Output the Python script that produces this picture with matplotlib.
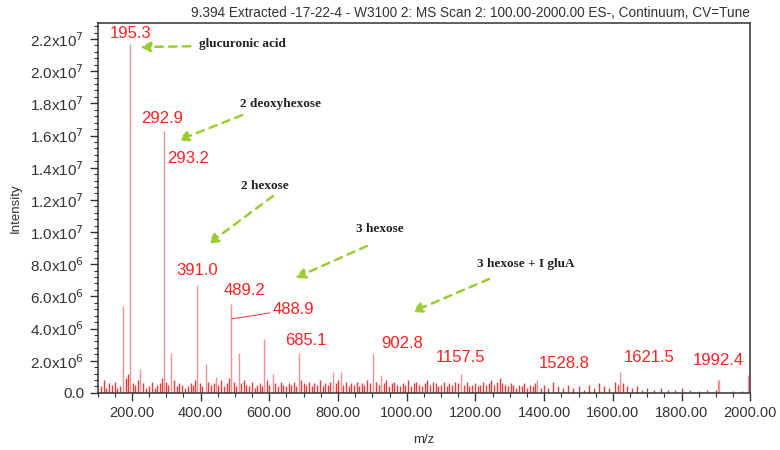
import numpy as np
import matplotlib
matplotlib.use("Agg")
import matplotlib.pyplot as plt
from matplotlib.ticker import MultipleLocator, FixedLocator

# pics principaux (m/z, intensite)
pic_mz = [175.0, 195.3, 225.0, 292.9, 315.0, 391.0, 415.0, 445.0, 489.2, 511.0,
          585.0, 610.0, 685.1, 785.0, 808.0, 902.8, 925.0, 1157.5, 1380.0,
          1621.5, 1905.0, 1910.0, 1992.4]
pic_int = [5.4e6, 2.17e7, 1.5e6, 1.63e7, 2.5e6, 6.7e6, 1.8e6, 1.0e6, 5.5e6, 2.5e6,
           3.35e6, 1.2e6, 2.5e6, 1.3e6, 1.3e6, 2.4e6, 1.1e6, 1.2e6, 0.8e6,
           1.3e6, 0.8e6, 0.8e6, 1.1e6]

# bruit de fond (m/z, intensite en unites de 1e5)
bruit_mz = [110, 118, 126, 133, 141, 150, 158, 166, 183, 190, 203, 210, 218, 232, 240,
            251, 259, 266, 274, 281, 288, 299, 306, 322, 330, 338, 347, 355, 362, 371,
            379, 385, 398, 405, 422, 430, 438, 452, 460, 468, 476, 483, 496, 503, 518,
            526, 533, 541, 549, 557, 564, 572, 579, 592, 600, 617, 625, 633, 641, 649,
            657, 664, 672, 679, 692, 700, 708, 716, 723, 731, 739, 747, 755, 762, 770,
            777, 793, 800, 815, 823, 831, 839, 846, 854, 862, 870, 877, 885, 893, 910,
            918, 933, 941, 949, 957, 964, 972, 980, 988, 996, 1004, 1012, 1020, 1028,
            1036, 1044, 1052, 1060, 1068, 1076, 1084, 1092, 1100, 1108, 1116, 1124,
            1132, 1140, 1148, 1166, 1174, 1182, 1190, 1198, 1206, 1214, 1222, 1230,
            1238, 1246, 1254, 1262, 1270, 1278, 1286, 1294, 1302, 1310, 1318, 1326,
            1334, 1342, 1350, 1358, 1366, 1374, 1390, 1398, 1410, 1425, 1440, 1455,
            1470, 1485, 1500, 1515, 1530, 1545, 1560, 1575, 1590, 1605, 1615, 1630,
            1640, 1655, 1670, 1685, 1700, 1720, 1740, 1760, 1780, 1800, 1825, 1850,
            1875, 1900, 1950, 1975]
bruit_int = [4, 8, 3, 6, 5, 7, 3, 4, 9, 12, 6, 5, 8, 6, 3,
             4, 7, 3, 5, 6, 9, 7, 5, 8, 4, 6, 5, 3, 4, 6,
             5, 8, 6, 4, 7, 5, 6, 5, 8, 4, 6, 9, 7, 4, 6,
             8, 5, 4, 7, 3, 5, 6, 4, 8, 5, 6, 4, 7, 5, 4,
             6, 5, 7, 4, 8, 6, 5, 7, 4, 6, 5, 8, 4, 6, 5,
             7, 6, 8, 5, 7, 4, 6, 5, 7, 4, 6, 5, 8, 6, 7,
             5, 6, 8, 4, 6, 7, 5, 4, 6, 5, 8, 4, 6, 7,
             5, 4, 6, 8, 5, 7, 6, 4, 5, 7, 4, 6,
             5, 7, 6, 5, 7, 4, 5, 6, 4, 5, 7, 5,
             6, 8, 5, 7, 9, 6, 5, 4, 6, 5, 3, 5,
             4, 6, 3, 5, 4, 6, 3, 5, 3, 7, 4, 3,
             5, 3, 4, 2, 5, 3, 6, 4, 3, 7, 5, 6,
             4, 3, 4, 2, 3, 2, 3, 2, 2, 3, 2, 1,
             2, 2, 1, 1]

# etiquettes rouges des pics (texte, x, y)
etiq_txt = ["195.3", "292.9", "293.2", "391.0", "489.2", "488.9", "685.1",
            "902.8", "1157.5", "1528.8", "1621.5", "1992.4"]
etiq_x = [195, 288, 363, 390, 529, 669, 707, 986, 1155, 1457, 1705, 1906]
etiq_y = [2.236e7, 1.708e7, 1.46e7, 7.58e6, 6.34e6, 5.16e6, 3.23e6, 3.04e6,
          2.17e6, 1.8e6, 2.17e6, 1.99e6]

# annotations vertes (texte, position texte, queue et tete de fleche)
annot_txt = ["glucuronic acid", "2 deoxyhexose", "2 hexose", "3 hexose",
             "3 hexose + I gluA"]
annot_pos = [(396, 2.17e7), (515, 1.795e7), (518, 1.286e7), (853, 1.019e7),
             (1205, 8.0e6)]
fleche_queue = [(370, 2.155e7), (521, 1.727e7), (611, 1.224e7), (884, 9.13e6),
                (1240, 7.08e6)]
fleche_tete = [(224, 2.15e7), (335, 1.57e7), (422, 9.25e6), (675, 7.14e6),
               (1015, 5.03e6)]

titre = "9.394 Extracted -17-22-4 - W3100 2: MS Scan 2: 100.00-2000.00 ES-, Continuum, CV=Tune"
gris = "#333333"
rouge = "#e83a3a"
vert = "#9acd32"

plt.rcParams['font.family'] = ['Liberation Sans', 'DejaVu Sans']

fig = plt.figure(figsize=(7.8, 4.5), dpi=100)
ax = fig.add_axes([0.125, 0.127, 0.837, 0.822])

#spectre
ax.vlines(bruit_mz, 0, np.array(bruit_int) * 1e5, color=rouge, lw=1.0)
ax.vlines(pic_mz, 0, pic_int, color="#f39090", lw=1.0)

ax.set_xlim(100, 2000)
ax.set_ylim(0, 2.3e7)

#ticks
ax.xaxis.set_major_locator(MultipleLocator(200))
ax.xaxis.set_minor_locator(MultipleLocator(50))
ax.xaxis.set_major_formatter(lambda v, p: "%.2f" % v)
yt = np.arange(0, 2.3e7, 2e6)
ax.yaxis.set_major_locator(FixedLocator(yt))
ax.yaxis.set_minor_locator(MultipleLocator(4e5))

def fmt_y(v, p):
    if v == 0:
        return "0.0"
    e = int(np.floor(np.log10(v) + 1e-9))
    return r"%.1fx10$^{%d}$" % (v / 10 ** e, e)

ax.yaxis.set_major_formatter(fmt_y)
ax.tick_params(which='major', length=6, width=1, colors=gris, labelsize=11)
ax.tick_params(which='minor', length=3, width=0.8, colors=gris)
ax.tick_params(axis='x', labelsize=10.5)
for s in ax.spines.values():
    s.set_color(gris)
    s.set_linewidth(1.1)

ax.set_xlabel("m/z", fontsize=9.5, color=gris, labelpad=10)
ax.set_ylabel("Intensity", fontsize=9.5, color=gris, labelpad=6)
ax.set_title(titre, fontsize=9.8, color=gris, loc='right', pad=4)

#etiquettes rouges
for t, x, y in zip(etiq_txt, etiq_x, etiq_y):
    ax.text(x, y, t, color="#ff2020", fontsize=12, ha='center', va='center')
# trait reliant 488.9 a son pic
ax.plot([491, 602], [4.6e6, 4.97e6], color=rouge, lw=0.7)

#fleches vertes
for t, pos, q, h in zip(annot_txt, annot_pos, fleche_queue, fleche_tete):
    ax.text(pos[0], pos[1], t, fontsize=9.5, fontweight='bold',
            family='Liberation Serif', color="#222222", ha='left', va='center')
    ax.annotate("", xy=h, xytext=q,
                arrowprops=dict(arrowstyle='-|>,head_length=0.6,head_width=0.3',
                                linestyle=(0, (3, 2.5)), color=vert, lw=1.8,
                                shrinkA=0, shrinkB=0))

fig.savefig("out.png", dpi=100)
